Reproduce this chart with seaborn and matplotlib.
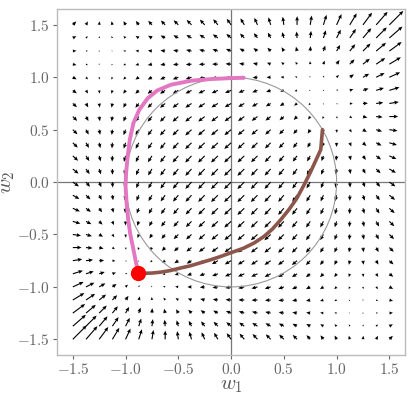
import numpy as np
import matplotlib
matplotlib.use("Agg")
import matplotlib.pyplot as plt
import seaborn as sns

# grid of the vector field
w1_grid = np.linspace(-1.5, 1.5, 25)
w2_grid = np.linspace(-1.5, 1.5, 25)

# trajectories (w1, w2)
pink_w1 = [0.12, 0.0, -0.19, -0.38, -0.57, -0.70, -0.79, -0.87, -0.925, -0.96, -0.98, -0.995,
           -1.0, -0.99, -0.975, -0.955, -0.93, -0.905, -0.88]
pink_w2 = [0.995, 0.992, 0.983, 0.967, 0.929, 0.874, 0.80, 0.69, 0.564, 0.405, 0.246, 0.088,
           -0.04, -0.20, -0.36, -0.50, -0.62, -0.75, -0.86]

brown_w1 = [0.866, 0.85, 0.80, 0.75, 0.69, 0.62, 0.55, 0.47, 0.39, 0.31, 0.22, 0.12, 0.01,
            -0.10, -0.19, -0.29, -0.39, -0.48, -0.58, -0.67, -0.75, -0.82, -0.88]
brown_w2 = [0.50, 0.31, 0.20, 0.09, -0.03, -0.16, -0.26, -0.36, -0.45, -0.52, -0.58, -0.63, -0.67,
            -0.71, -0.74, -0.77, -0.80, -0.82, -0.845, -0.86, -0.868, -0.87, -0.865]

end_point = (-0.88, -0.865)


def field(a, b):
    # flow with a sink at -(sqrt3/2, sqrt3/2) and a source at +(sqrt3/2, sqrt3/2)
    v1 = ((5 * a**2 + 2 * a * b + b**2) / 4 - 1.5) / np.sqrt(2)
    v2 = ((a**2 + 2 * a * b + 5 * b**2) / 4 - 1.5) / np.sqrt(2)
    return v1, v2


sns.set_theme(style="white")
plt.rcParams["font.family"] = "serif"
plt.rcParams["font.serif"] = ["cmr10", "DejaVu Serif"]
plt.rcParams["mathtext.fontset"] = "cm"
plt.rcParams["axes.formatter.use_mathtext"] = True

fig = plt.figure(figsize=(4.16, 3.98), dpi=100)
ax = fig.add_axes([0.137, 0.108, 0.837, 0.869])

W1, W2 = np.meshgrid(w1_grid, w2_grid)
U, V = field(W1, W2)
ax.quiver(W1, W2, U, V, color="black", scale=16, scale_units="xy",
          width=0.0032, headwidth=3.5, headlength=4, headaxislength=3.5)

ax.add_patch(plt.Circle((0, 0), 1.0, fill=False, color="#999999", lw=0.8))
ax.axhline(0, color="#777777", lw=0.9, zorder=0)
ax.axvline(0, color="#777777", lw=0.9, zorder=0)

sns.lineplot(x=pink_w1, y=pink_w2, sort=False, color="#e377c2", lw=2.8, ax=ax)
sns.lineplot(x=brown_w1, y=brown_w2, sort=False, color="#8c564b", lw=2.6, ax=ax)
ax.plot(*end_point, "o", color="red", ms=10, zorder=5)

ax.set_xlim(-1.65, 1.65)
ax.set_ylim(-1.65, 1.65)
ticks = [-1.5, -1.0, -0.5, 0.0, 0.5, 1.0, 1.5]
tick_labels = ["$-1.5$", "$-1.0$", "$-0.5$", "$0.0$", "$0.5$", "$1.0$", "$1.5$"]
ax.set_xticks(ticks)
ax.set_yticks(ticks)
ax.set_xticklabels(tick_labels)
ax.set_yticklabels(tick_labels)
ax.tick_params(labelsize=11, colors="#666666", length=3, width=0.8, direction="out", pad=2)
ax.tick_params(axis="both", which="both", bottom=True, left=True)
for sp in ax.spines.values():
    sp.set_color("#bbbbbb")
    sp.set_linewidth(1.0)

ax.set_xlabel("$w_1$", fontsize=15, color="#555555", labelpad=0)
ax.set_ylabel("$w_2$", fontsize=15, color="#555555", labelpad=0)

fig.savefig("out.png", dpi=100)
